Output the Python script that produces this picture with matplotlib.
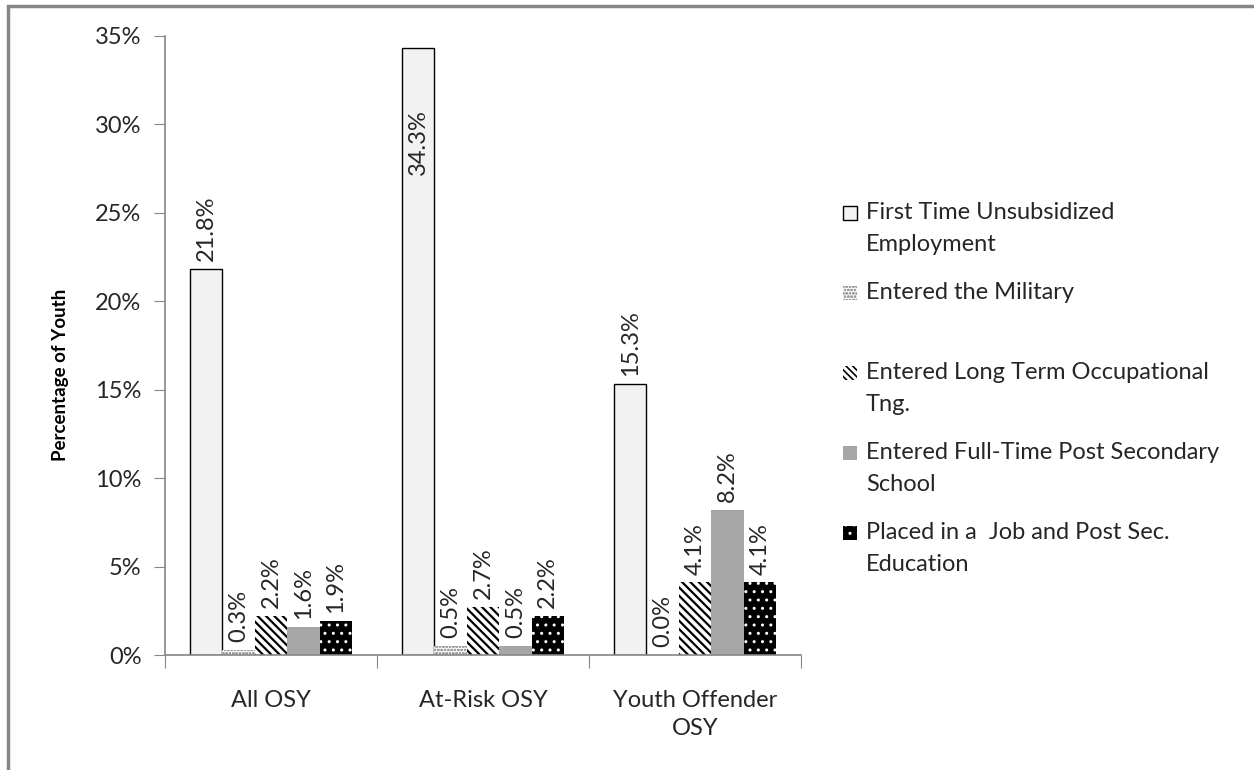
import matplotlib
matplotlib.use("Agg")
import matplotlib.pyplot as plt
import matplotlib.patches as mpatches
import numpy as np

categories = ["All OSY", "At-Risk OSY", "Youth Offender\nOSY"]
series = [
    "First Time Unsubsidized\nEmployment",
    "Entered the Military",
    "Entered Long Term Occupational\nTng.",
    "Entered Full-Time Post Secondary\nSchool",
    "Placed in a  Job and Post Sec.\nEducation",
]
first_job = [21.8, 34.3, 15.3]
military = [0.3, 0.5, 0.0]
long_term = [2.2, 2.7, 4.1]
post_sec = [1.6, 0.5, 8.2]
job_and_sec = [1.9, 2.2, 4.1]
values = [first_job, military, long_term, post_sec, job_and_sec]

yticks = [0, 5, 10, 15, 20, 25, 30, 35]

styles = [
    dict(facecolor="#f2f2f2", edgecolor="black", linewidth=1.0, hatch=None),
    dict(facecolor="white", edgecolor="#a0a0a0", linewidth=0, hatch="ooooo"),
    dict(facecolor="white", edgecolor="black", linewidth=0, hatch="\\\\\\\\"),
    dict(facecolor="#a6a6a6", edgecolor="#a6a6a6", linewidth=0, hatch=None),
    dict(facecolor="black", edgecolor="white", linewidth=0, hatch=".."),
]
hatch_lw = [1.0, 0.8, 1.6, 1.0, 1.0]

plt.rcParams["font.family"] = ["Lato", "DejaVu Sans"]
plt.rcParams["hatch.linewidth"] = 1.0
FS = 17
TXT = "#262626"
W, H = 1254, 770
fig = plt.figure(figsize=(W / 100, H / 100), dpi=100)
ax = fig.add_axes([165 / W, 1 - 655 / H, (801 - 165) / W, (655 - 36) / H])


def set_hlw(patch, lw):
    if hasattr(patch, "set_hatch_linewidth"):
        patch.set_hatch_linewidth(lw)


x = np.arange(len(categories))
bw = 0.153
ymax = 35
for i, (vals, st) in enumerate(zip(values, styles)):
    xs = x + (i - 2) * bw
    bars = ax.bar(xs, vals, bw, **st)
    for b in bars:
        set_hlw(b, hatch_lw[i])
    for xi, v in zip(xs, vals):
        if v + 4.5 > ymax:
            # no room above: Excel tucks the label inside the bar
            ax.text(xi, v * 0.9, f"{v:.1f}%", rotation=90, ha="center", va="top",
                    fontsize=FS, color=TXT)
        else:
            ax.text(xi, v + 0.45, f"{v:.1f}%", rotation=90, ha="center", va="bottom",
                    fontsize=FS, color=TXT)

ax.set_xlim(-0.5, len(categories) - 0.5)
ax.set_ylim(0, ymax)
ax.set_yticks(yticks)
ax.set_yticklabels([f"{t}%" for t in yticks], fontsize=FS, color=TXT)
ax.set_xticks(np.arange(-0.5, len(categories)), minor=False)
ax.set_xticklabels([])
ax.set_xticks(x, minor=True)
ax.set_xticklabels(categories, minor=True, fontsize=FS, color=TXT, linespacing=1.45)
ax.tick_params(axis="x", which="minor", length=0, pad=25)
ax.tick_params(axis="x", which="major", length=9, color="#868686", direction="out")
ax.tick_params(axis="y", length=8, color="#868686", pad=9)
for s in ("top", "right"):
    ax.spines[s].set_visible(False)
for s in ("left", "bottom"):
    ax.spines[s].set_color("#868686")
    ax.spines[s].set_linewidth(1.2)
ax.set_ylabel("Percentage of Youth", fontsize=13.5, fontweight="bold", color="black")
ax.yaxis.set_label_coords(-0.151, 0.452)

# manual legend (Excel-style uneven slots)
for i, (name, st) in enumerate(zip(series, styles)):
    yc = 213 + 80 * i
    key = mpatches.Rectangle((843 / W, 1 - (yc + 7) / H), 14 / W, 14 / H,
                             transform=fig.transFigure, facecolor=st["facecolor"],
                             edgecolor=st["edgecolor"],
                             hatch="\\\\\\\\\\" if i == 2 else st["hatch"],
                             linewidth=1.0 if i == 0 else 0)
    set_hlw(key, 1.2 if i == 2 else hatch_lw[i])
    fig.patches.append(key)
    fig.text(866 / W, 1 - (yc - 11) / H, name, ha="left", va="top", fontsize=FS,
             color=TXT, linespacing=1.65)

# chart-area border
fig.patches.append(mpatches.Rectangle((8 / W, -0.1), 1.2, 1.1 - 6 / H, transform=fig.transFigure,
                                      facecolor="none", edgecolor="#868686", linewidth=2.5))

fig.savefig("out.png", dpi=100)
